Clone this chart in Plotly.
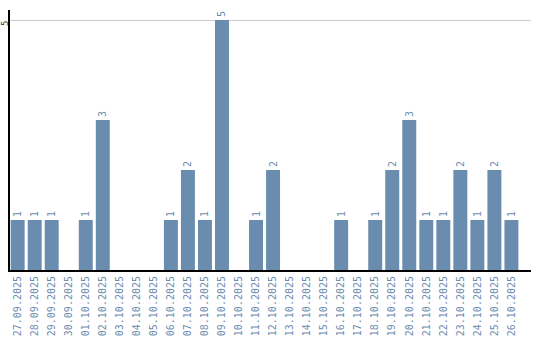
import plotly.graph_objects as go

dates = ["27.09.2025", "28.09.2025", "29.09.2025", "30.09.2025", "01.10.2025",
         "02.10.2025", "03.10.2025", "04.10.2025", "05.10.2025", "06.10.2025",
         "07.10.2025", "08.10.2025", "09.10.2025", "10.10.2025", "11.10.2025",
         "12.10.2025", "13.10.2025", "14.10.2025", "15.10.2025", "16.10.2025",
         "17.10.2025", "18.10.2025", "19.10.2025", "20.10.2025", "21.10.2025",
         "22.10.2025", "23.10.2025", "24.10.2025", "25.10.2025", "26.10.2025"]
counts = [1, 1, 1, 0, 1, 3, 0, 0, 0, 1, 2, 1, 5, 0, 1, 2, 0, 0, 0, 1,
          0, 1, 2, 3, 1, 1, 2, 1, 2, 1]
labels = [str(v) if v else "" for v in counts]
y_ticks = [5]

BAR = "#6a8caf"
TXT = "#6d8db0"

fig = go.Figure(go.Bar(
    x=dates, y=counts, text=labels, textposition="outside", textangle=-90,
    textfont=dict(family="DejaVu Sans Mono", size=10, color=TXT),
    marker=dict(color=BAR, line=dict(width=0)), cliponaxis=False,
))
for t in y_ticks:
    fig.add_annotation(x=0, xref="paper", y=t, yref="y", text=str(t),
                       showarrow=False, textangle=-90, xanchor="center",
                       yanchor="middle", xshift=-5, yshift=-4,
                       font=dict(family="DejaVu Sans Mono", size=9, color="#333"))
fig.update_layout(
    width=540, height=340, margin=dict(l=10, r=9, t=10, b=70),
    paper_bgcolor="white", plot_bgcolor="white", bargap=0.18,
    showlegend=False,
    xaxis=dict(type="category", range=[-0.45, 30.15], tickangle=-90,
               tickfont=dict(family="DejaVu Sans Mono", size=10, color=TXT),
               showline=True, linecolor="black", linewidth=2,
               showgrid=False, ticks="", ticklen=0, automargin=False),
    yaxis=dict(range=[0, 5.2], tickvals=y_ticks, showticklabels=False,
               showline=True, linecolor="black", linewidth=2,
               showgrid=True, gridcolor="#cccccc", gridwidth=1,
               zeroline=False, ticks="", ticklen=0, automargin=False),
)
fig.write_html("out.html")
